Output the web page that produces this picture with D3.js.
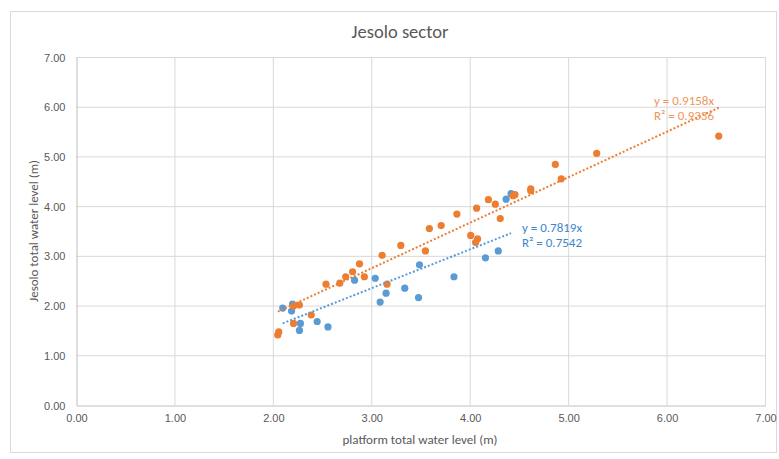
<!DOCTYPE html>
<html>
<head>
<meta charset="utf-8">
<script src="https://cdn.jsdelivr.net/npm/d3@7"></script>
<style>
    body { margin: 0; background: #fff; }
    svg { font-family: Calibri, Carlito, Lato, sans-serif; }
</style>
</head>
<body>
<div id="chart"></div>
<script>
'use strict';

// blue series (platform vs Jesolo)
var blueX = [2.10, 2.20, 2.19, 2.28, 2.27, 2.45, 2.56, 2.83, 3.04, 3.15, 3.09, 3.34, 3.48, 3.49, 3.84, 4.16, 4.29, 4.37, 4.42];
var blueY = [1.95, 2.03, 1.89, 1.64, 1.50, 1.68, 1.57, 2.51, 2.55, 2.25, 2.07, 2.35, 2.16, 2.82, 2.58, 2.96, 3.10, 4.14, 4.25];

// orange series
var orangeX = [2.05, 2.06, 2.21, 2.27, 2.21, 2.39, 2.54, 2.68, 2.74, 2.81, 2.88, 2.93, 3.11, 3.16, 3.30, 3.55, 3.59, 3.71,
               3.87, 4.01, 4.07, 4.08, 4.06, 4.19, 4.26, 4.31, 4.44, 4.46, 4.62, 4.62, 4.87, 4.93, 5.29, 6.53];
var orangeY = [1.41, 1.47, 1.99, 2.01, 1.64, 1.81, 2.43, 2.45, 2.58, 2.68, 2.84, 2.58, 3.01, 2.43, 3.21, 3.10, 3.55, 3.61,
               3.84, 3.41, 3.96, 3.34, 3.27, 4.13, 4.04, 3.75, 4.21, 4.23, 4.35, 4.31, 4.84, 4.55, 5.06, 5.41];

// trendlines through the origin
var slopes = [0.7819, 0.9158];
var rSquared = [0.7542, 0.9336];

var xTicks = [0, 1, 2, 3, 4, 5, 6, 7];
var yTicks = [0, 1, 2, 3, 4, 5, 6, 7];

var width = 779, height = 459;
var blue = '#5B9BD5', orange = '#ED7D31';

var svg = d3.select('#chart').append('svg')
    .attr('width', width)
    .attr('height', height);

// chart border
svg.append('rect')
    .attr('x', 10.5).attr('y', 11.5)
    .attr('width', 766).attr('height', 441)
    .attr('fill', '#fff')
    .attr('stroke', '#D9D9D9');

var x = d3.scaleLinear().domain([0, 7]).range([76, 765]);
var y = d3.scaleLinear().domain([0, 7]).range([405, 57]);

// gridlines
svg.append('g')
    .selectAll('line.v')
    .data(xTicks.slice(1))
    .enter().append('line')
    .attr('x1', function (d) { return x(d) + 0.5; })
    .attr('x2', function (d) { return x(d) + 0.5; })
    .attr('y1', y(0)).attr('y2', y(7))
    .attr('stroke', '#D9D9D9');

svg.append('g')
    .selectAll('line.h')
    .data(yTicks.slice(1))
    .enter().append('line')
    .attr('y1', function (d) { return y(d) + 0.5; })
    .attr('y2', function (d) { return y(d) + 0.5; })
    .attr('x1', x(0)).attr('x2', x(7))
    .attr('stroke', '#D9D9D9');

// axes
var xAxis = svg.append('g')
    .attr('transform', 'translate(0.5,' + (y(0) + 0.5) + ')')
    .call(d3.axisBottom(x).tickValues(xTicks).tickFormat(d3.format('.2f')).tickSize(0).tickPadding(9));
var yAxis = svg.append('g')
    .attr('transform', 'translate(' + (x(0) + 0.5) + ',0.5)')
    .call(d3.axisLeft(y).tickValues(yTicks).tickFormat(d3.format('.2f')).tickSize(0).tickPadding(11));

[xAxis, yAxis].forEach(function (ax) {
    ax.select('.domain').attr('stroke', '#BFBFBF');
    ax.selectAll('text')
        .attr('fill', '#595959')
        .style('font-size', '11px');
});

// titles
svg.append('text')
    .attr('x', 400).attr('y', 38)
    .attr('text-anchor', 'middle')
    .attr('fill', '#595959')
    .style('font-size', '18.5px')
    .text('Jesolo sector');

svg.append('text')
    .attr('x', 420).attr('y', 444)
    .attr('text-anchor', 'middle')
    .attr('fill', '#595959')
    .style('font-size', '13px')
    .text('platform total water level (m)');

svg.append('text')
    .attr('transform', 'translate(38,231) rotate(-90)')
    .attr('text-anchor', 'middle')
    .attr('fill', '#595959')
    .style('font-size', '13px')
    .text('Jesolo total water level (m)');

// points
var series = [
    {xs: blueX, ys: blueY, color: blue},
    {xs: orangeX, ys: orangeY, color: orange}
];

series.forEach(function (s) {
    var pts = s.xs.map(function (v, i) { return [v, s.ys[i]]; });
    svg.append('g')
        .selectAll('circle')
        .data(pts)
        .enter().append('circle')
        .attr('cx', function (d) { return x(d[0]); })
        .attr('cy', function (d) { return y(d[1]); })
        .attr('r', 3.6)
        .attr('fill', s.color);
});

// trendlines
series.forEach(function (s, i) {
    var x0 = d3.min(s.xs), x1 = d3.max(s.xs);
    svg.append('line')
        .attr('x1', x(x0)).attr('y1', y(x0 * slopes[i]))
        .attr('x2', x(x1)).attr('y2', y(x1 * slopes[i]))
        .attr('stroke', s.color)
        .attr('stroke-width', 2)
        .attr('stroke-dasharray', '2,2');
});

// equation labels, one text per line
var labels = [
    {x: 522, y: 232, color: '#3B87CC', i: 0},
    {x: 654, y: 105, color: '#F0955A', i: 1}
];
labels.forEach(function (l) {
    svg.append('text')
        .attr('x', l.x).attr('y', l.y)
        .attr('fill', l.color)
        .style('font-size', '13px')
        .text('y = ' + slopes[l.i] + 'x');
    svg.append('text')
        .attr('x', l.x).attr('y', l.y + 15)
        .attr('fill', l.color)
        .style('font-size', '13px')
        .text('R² = ' + rSquared[l.i]);
});
</script>
</body>
</html>
